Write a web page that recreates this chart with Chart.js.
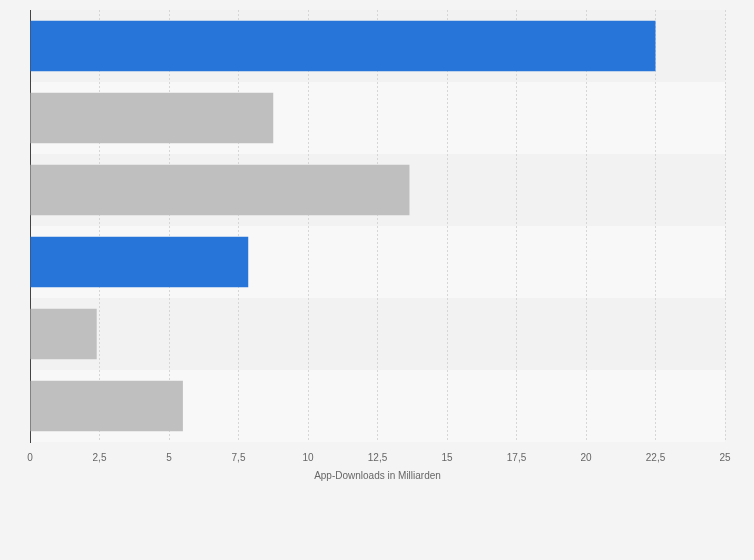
<!DOCTYPE html>
<html lang="de">
<head>
    <meta charset="UTF-8">
    <title>App-Downloads</title>
    <script src="https://cdn.jsdelivr.net/npm/chart.js"></script>
    <style>
        body {
            margin: 0;
            padding: 0;
            background-color: #f4f4f4;
        }

        #chartBox {
            width: 754px;
            height: 560px;
        }
    </style>
</head>
<body>
    <div id="chartBox">
        <canvas id="downloadChart"></canvas>
    </div>

    <script>
        // category names are not shown in the picture
        const categories = ['A', 'B', 'C', 'D', 'E', 'F'];
        const downloads = [22.5, 8.75, 13.65, 7.85, 2.4, 5.5];
        const barColors = ['#2775d9', '#bfbfbf', '#bfbfbf', '#2775d9', '#bfbfbf', '#bfbfbf'];
        const xTicks = [0, 2.5, 5, 7.5, 10, 12.5, 15, 17.5, 20, 22.5, 25];
        const axisTitle = 'App-Downloads in Milliarden';

        const fontFamily = "'Liberation Sans Narrow', 'Liberation Sans', Arial, sans-serif";

        // alternating background bands behind each category row
        const bandPlugin = {
            id: 'bands',
            beforeDraw(chart) {
                const ctx = chart.ctx;
                const area = chart.chartArea;
                const yScale = chart.scales.y;
                categories.forEach((c, i) => {
                    const mid = yScale.getPixelForValue(i);
                    const half = (area.bottom - area.top) / categories.length / 2;
                    ctx.fillStyle = i % 2 === 0 ? '#f2f2f2' : '#f8f8f8';
                    ctx.fillRect(area.left, mid - half, area.right - area.left, half * 2);
                });
            }
        };

        const ctx = document.getElementById('downloadChart').getContext('2d');
        const chart = new Chart(ctx, {
            type: 'bar',
            data: {
                labels: categories,
                datasets: [{
                    data: downloads,
                    backgroundColor: barColors,
                    borderWidth: 0,
                    categoryPercentage: 0.7,
                    barPercentage: 1.0
                }]
            },
            options: {
                indexAxis: 'y',
                responsive: true,
                maintainAspectRatio: false,
                animation: false,
                layout: {
                    padding: { left: 30, right: 29, top: 10, bottom: 74 }
                },
                plugins: {
                    legend: { display: false },
                    tooltip: { enabled: false }
                },
                scales: {
                    x: {
                        min: 0,
                        max: 25,
                        afterBuildTicks: (axis) => {
                            axis.ticks = xTicks.map(v => ({ value: v }));
                        },
                        ticks: {
                            color: '#666666',
                            font: { family: fontFamily, size: 10 },
                            padding: 10,
                            maxRotation: 0,
                            callback: (v) => String(v).replace('.', ',')
                        },
                        grid: {
                            color: '#d6d6d6',
                            lineWidth: 1,
                            drawTicks: false
                        },
                        border: {
                            display: false,
                            dash: [2, 2]
                        },
                        title: {
                            display: true,
                            text: axisTitle,
                            color: '#666666',
                            font: { family: fontFamily, size: 10 },
                            padding: { top: -4, bottom: 4 }
                        }
                    },
                    y: {
                        ticks: { display: false },
                        grid: { display: false, drawTicks: false },
                        border: {
                            display: true,
                            color: '#444444',
                            width: 1
                        }
                    }
                }
            },
            plugins: [bandPlugin]
        });
    </script>
</body>
</html>
